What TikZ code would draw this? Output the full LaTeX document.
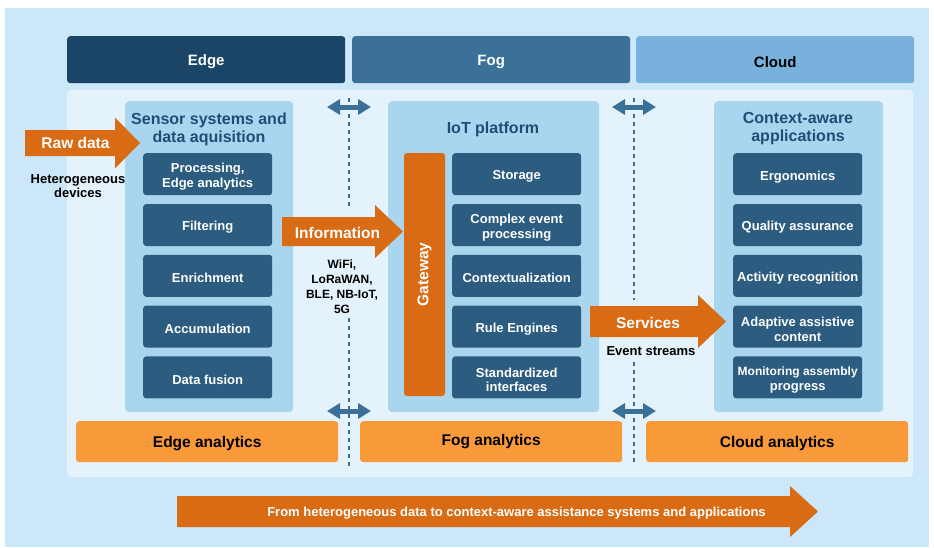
\documentclass[tikz,border=0pt]{standalone}
\usepackage{fontspec}
\setmainfont{Liberation Sans}
\usetikzlibrary{arrows.meta,positioning}
\definecolor{bgblue}{RGB}{204,231,247}
\definecolor{innerblue}{RGB}{227,242,251}
\definecolor{panelblue}{RGB}{169,213,238}
\definecolor{itemblue}{RGB}{44,92,128}
\definecolor{edgenavy}{RGB}{27,69,103}
\definecolor{fogblue}{RGB}{59,112,152}
\definecolor{cloudblue}{RGB}{120,177,220}
\definecolor{titleblue}{RGB}{31,78,117}
\definecolor{arroworange}{RGB}{217,107,21}
\definecolor{anaorange}{RGB}{248,154,58}
\tikzset{
  hdrbar/.style ={rectangle, rounded corners=3pt, anchor=north west, inner sep=0pt,
                  minimum width=278pt, minimum height=47pt},
  hdrtext/.style={inner sep=0pt, yshift=-2pt, font=\fontsize{15}{18}\selectfont\bfseries},
  tierpanel/.style={rectangle, rounded corners=4pt, anchor=north west, fill=panelblue,
                  inner sep=0pt, minimum height=311pt},
  ptitle/.style ={align=center, text=titleblue, inner sep=0pt,
                  font=\fontsize{16}{18}\selectfont\bfseries},
  itembox/.style={rectangle, rounded corners=3pt, anchor=north west, fill=itemblue,
                  minimum width=129pt, minimum height=42pt, inner sep=0pt},
  itemtext/.style={text=white, inner sep=0pt, yshift=-2.5pt, align=center,
                  font=\fontsize{13}{14.5}\selectfont\bfseries},
  anabar/.style ={rectangle, rounded corners=3pt, anchor=north west, fill=anaorange,
                  minimum width=262pt, minimum height=41pt, inner sep=0pt},
  anatext/.style={inner sep=0pt, yshift=-2pt, font=\fontsize{15.5}{18}\selectfont\bfseries},
  flowarrow/.style={fill=arroworange},
  flowtext/.style={text=white, inner sep=0pt, font=\fontsize{15.5}{18}\selectfont\bfseries},
  smalltext/.style={align=center, inner sep=0pt, font=\fontsize{13}{14.5}\selectfont\bfseries},
  sepline/.style={fogblue, line width=2.3pt, dash pattern=on 3.5pt off 4.5pt},
  linkarrow/.style={{Triangle[length=13pt,width=15pt]}-{Triangle[length=13pt,width=15pt]},
                  fogblue, line width=5pt},
}
\begin{document}
\begin{tikzpicture}[x=1pt, y=-1pt]
\useasboundingbox (0,0) rectangle (934,547);
\fill[bgblue] (5,8) rectangle (929,547);
\fill[innerblue, rounded corners=4pt] (67,90) rectangle (913,477);
% tier headers
\node[hdrbar, fill=edgenavy, label={[hdrtext, text=white]center:Edge}] (edge) at (67,36) {};
\node[hdrbar, fill=fogblue, label={[hdrtext, text=white]center:Fog}] (fog) at (352,36) {};
\node[hdrbar, fill=cloudblue, label={[hdrtext, text=black]center:Cloud}] (cloud) at (636,36) {};
% panels
\node[tierpanel, minimum width=168pt] (sensor) at (125,101) {};
\node[tierpanel, minimum width=211pt] (iot) at (388,101) {};
\node[tierpanel, minimum width=169pt] (context) at (714,101) {};
\node[ptitle] (sensortitle) at (209,129) {Sensor systems and\\data aquisition};
\node[ptitle] (iottitle) at (493,129.5) {IoT platform};
\node[ptitle] (contexttitle) at (798,129) {Context-aware\\applications};
% items
\foreach \t [count=\i] in {{Processing,\\Edge analytics}, Filtering, Enrichment, Accumulation, Data fusion}
  \node[itembox, label={[itemtext]center:\t}] (s\i) at (143, 153+50.8*\i-50.8) {};
\foreach \t [count=\i] in {Storage, {Complex event\\processing}, Contextualization, Rule Engines, {Standardized\\interfaces}}
  \node[itembox, label={[itemtext]center:\t}] (p\i) at (452, 153+50.8*\i-50.8) {};
\foreach \t [count=\i] in {Ergonomics, Quality assurance, Activity recognition, {Adaptive assistive\\content}, {\fontsize{12}{14}\selectfont Monitoring assembly\\progress}}
  \node[itembox, label={[itemtext]center:\t}] (c\i) at (733, 153+50.8*\i-50.8) {};
\node[rectangle, rounded corners=3pt, fill=arroworange, text=white, rotate=90,
      minimum width=243pt, minimum height=41pt, inner sep=0pt,
      font=\fontsize{15.5}{18}\selectfont\bfseries] (gateway) at (424.5,274.5) {Gateway};
% analytics
\node[anabar, label={[anatext]center:Edge analytics}] (edgeana) at (76,421) {};
\node[anabar, label={[anatext, yshift=2pt]center:Fog analytics}] (fogana) at (360,421) {};
\node[anabar, label={[anatext]center:Cloud analytics}] (cloudana) at (646,421) {};
% separators
\coordinate (sa1) at (349,98);  \coordinate (sa2) at (349,210);
\coordinate (sa3) at (349,318); \coordinate (sa4) at (349,466);
\coordinate (sb1) at (634,98);  \coordinate (sb2) at (634,300);
\coordinate (sb3) at (634,362); \coordinate (sb4) at (634,463);
\coordinate (la1) at (327,107); \coordinate (la2) at (371,107);
\coordinate (la3) at (327,411); \coordinate (la4) at (371,411);
\coordinate (lb1) at (612,107); \coordinate (lb2) at (656,107);
\coordinate (lb3) at (612,411); \coordinate (lb4) at (656,411);
\draw[linkarrow] (la1) -- (la2);
\draw[linkarrow] (la3) -- (la4);
\draw[linkarrow] (lb1) -- (lb2);
\draw[linkarrow] (lb3) -- (lb4);
\draw[sepline] (sa1) -- (sa2);
\draw[sepline] (sa3) -- (sa4);
\draw[sepline] (sb1) -- (sb2);
\draw[sepline] (sb3) -- (sb4);
% flow arrows
\fill[flowarrow] (25,130) -- (115,130) -- (115,117.5) -- (140,143) -- (115,168.5) -- (115,156) -- (25,156) -- cycle;
\node[flowtext] (raw) at (75.5,143) {Raw data};
\fill[flowarrow] (282,217) -- (375,217) -- (375,205) -- (403,231.5) -- (375,258) -- (375,246) -- (282,246) -- cycle;
\node[flowtext] (info) at (337.5,233) {Information};
\fill[flowarrow] (590,306) -- (698,306) -- (698,295) -- (726,321.5) -- (698,348) -- (698,337) -- (590,337) -- cycle;
\node[flowtext] (services) at (648,323) {Services};
\fill[flowarrow] (177,496) -- (790,496) -- (790,486) -- (818,511.5) -- (790,537) -- (790,527) -- (177,527) -- cycle;
\node[flowtext, font=\fontsize{13}{15}\selectfont\bfseries] (summary) at (516.5,513)
  {From heterogeneous data to context-aware assistance systems and applications};
% side labels
\node[smalltext] (hetero) at (78,186) {Heterogeneous\\devices};
\node[smalltext, font=\fontsize{12}{15}\selectfont\bfseries] (radio) at (342,286.5) {WiFi,\\LoRaWAN,\\BLE, NB-IoT,\\5G};
\node[smalltext] (events) at (651,351) {Event streams};
\end{tikzpicture}
\end{document}
